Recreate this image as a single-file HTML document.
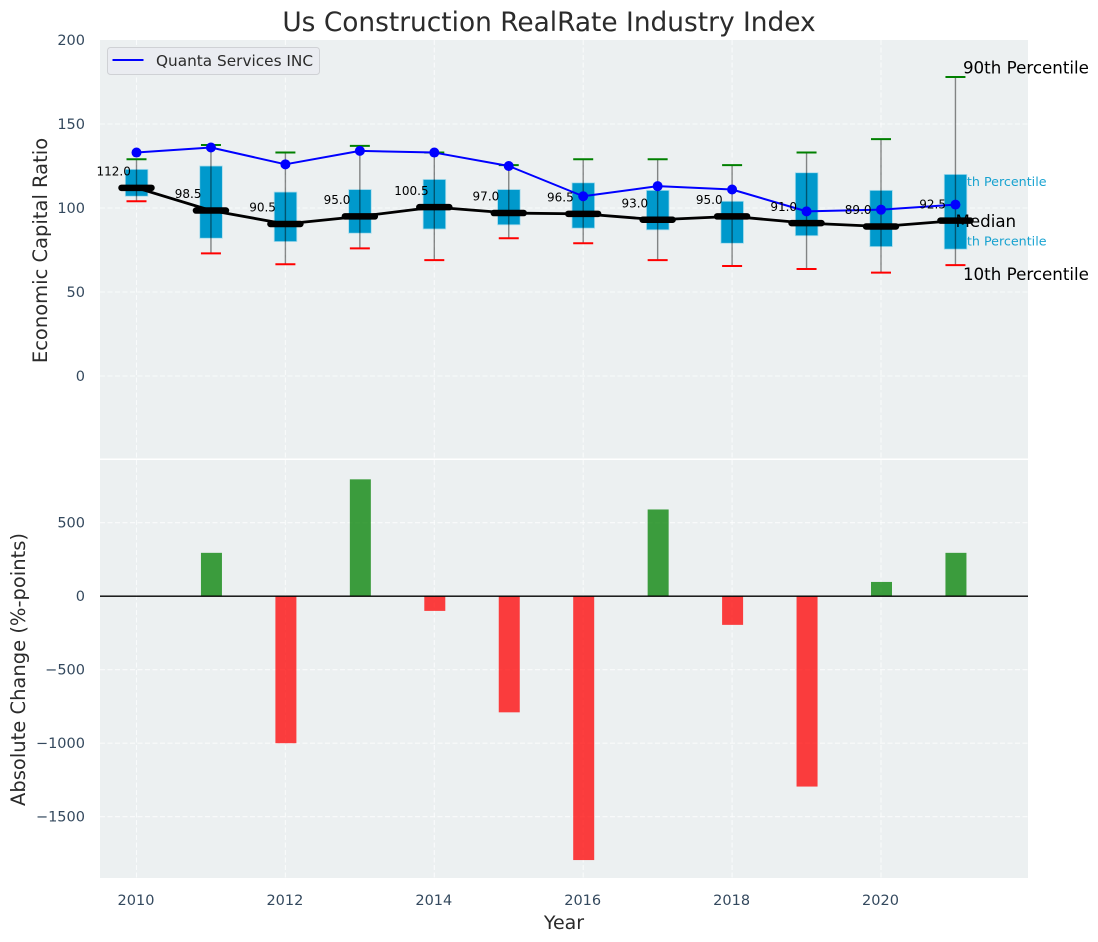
<!DOCTYPE html>
<html>
<head>
<meta charset="utf-8">
<title>Us Construction RealRate Industry Index</title>
<style>
html,body{margin:0;padding:0;background:#fff;}
svg{display:block;font-family:"DejaVu Sans","Liberation Sans",sans-serif;}
</style>
</head>
<body>
<svg id="chart" width="1098" height="942" viewBox="0 0 1098 942" xmlns="http://www.w3.org/2000/svg"></svg>
<script>
const years = [2010,2011,2012,2013,2014,2015,2016,2017,2018,2019,2020,2021];
const p90 = [129,137.5,133,137,133,125.5,129,129,125.5,133,141,178];
const p75 = [123,125,109.5,111,117,111,115,110.5,104,121,110.5,120];
const median = [112,98.5,90.5,95,100.5,97,96.5,93,95,91,89,92.5];
const p25 = [107,82,80,85,87.5,90,88,87,79,83.5,77,75.5];
const p10 = [104,73,66.5,76,69,82,79,69,65.5,63.7,61.5,66];
const company = [133,136,126,134,133,125,107,113,111,98,99,102];
const changes = [0,295,-1000,795,-100,-790,-1795,590,-195,-1295,97,295];
const xTicks = [2010,2012,2014,2016,2018,2020];
const topTicks = [0,50,100,150,200];
const bottomTicks = [-1500,-1000,-500,0,500];
const medianLabels = ["112.0","98.5","90.5","95.0","100.5","97.0","96.5","93.0","95.0","91.0","89.0","92.5"];

const X0 = 100, X1 = 1028;
const TOP_Y0 = 40, TOP_Y1 = 458.5, BOT_Y0 = 460, BOT_Y1 = 878;
const xScale = v => 136.5 + (v - 2010) * 74.45;
const yTop = v => 376 - v * 1.68;
const yBot = v => 596.2 - v * 0.147;
const svg = document.getElementById('chart');
const NS = 'http://www.w3.org/2000/svg';

function make(tag, props, text) {
  const el = document.createElementNS(NS, tag);
  for (const k in props) el.setAttribute(k, props[k]);
  if (text !== undefined) el.textContent = text;
  svg.appendChild(el);
  return el;
}
const tickColor = '#34495e', labelColor = '#2b2b2b';
const gridStyle = {stroke:'#ffffff','stroke-width':1.1,'stroke-dasharray':'5 2.5','stroke-opacity':0.7};
let el;

el = make('rect',{x:X0,y:TOP_Y0,width:X1-X0,height:TOP_Y1-TOP_Y0,fill:'#ecf0f1'});


el = make('rect',{x:X0,y:BOT_Y0,width:X1-X0,height:BOT_Y1-BOT_Y0,fill:'#ecf0f1'});



xTicks.forEach(t => {
  el = make('line',Object.assign({x1:xScale(t),x2:xScale(t),y1:TOP_Y0,y2:TOP_Y1},gridStyle));
  
  
  el = make('line',Object.assign({x1:xScale(t),x2:xScale(t),y1:BOT_Y0,y2:BOT_Y1},gridStyle));
  
  
  el = make('text',{x:xScale(t)-0.5,y:905,'text-anchor':'middle','font-size':14.5,fill:tickColor},String(t));
  
  
});
topTicks.forEach(t => {
  if (t < 200) {
    el = make('line',Object.assign({x1:X0,x2:X1,y1:yTop(t),y2:yTop(t)},gridStyle));
    
    
  }
  el = make('text',{x:85,y:yTop(t)+5,'text-anchor':'end','font-size':14.5,fill:tickColor},String(t));
  
  
});
bottomTicks.forEach(t => {
  el = make('line',Object.assign({x1:X0,x2:X1,y1:yBot(t),y2:yBot(t)},gridStyle));
  
  
  el = make('text',{x:85,y:yBot(t)+5,'text-anchor':'end','font-size':14.5,fill:tickColor},String(t).replace('-','\u2212'));
  
  
});

/* percentile notes sit beneath the boxes */
const last = years.length - 1;
el = make('text',{x:xScale(years[last])-4.7,y:yTop(p75[last])+11.5,'font-size':12.7,fill:'#0099cc','fill-opacity':0.9},'75th Percentile');


el = make('text',{x:xScale(years[last])-4.7,y:yTop(p25[last])-3.5,'font-size':12.7,fill:'#0099cc','fill-opacity':0.9},'25th Percentile');



years.forEach((yr,i) => {
  const cx = xScale(yr);
  el = make('rect',{x:cx-11.2,y:yTop(p75[i]),width:22.6,height:yTop(p25[i])-yTop(p75[i]),fill:'#0099cc',stroke:'#a9dcec','stroke-width':0.8});
  
  
  el = make('line',{x1:cx,x2:cx,y1:yTop(p90[i]),y2:yTop(p10[i]),stroke:'#000','stroke-opacity':0.45,'stroke-width':1.4});
  
  
  el = make('line',{x1:cx-10,x2:cx+10,y1:yTop(p90[i]),y2:yTop(p90[i]),stroke:'#008000','stroke-width':2});
  
  
  el = make('line',{x1:cx-10,x2:cx+10,y1:yTop(p10[i]),y2:yTop(p10[i]),stroke:'#ff0000','stroke-width':2});
  
  
});

el = make('polyline',{points:years.map((yr,i)=>xScale(yr)+','+yTop(median[i])).join(' '),fill:'none',stroke:'#000','stroke-width':2.8,'stroke-linejoin':'round'});


years.forEach((yr,i) => {
  const cx = xScale(yr);
  el = make('line',{x1:cx-15,x2:cx+15,y1:yTop(median[i]),y2:yTop(median[i]),stroke:'#000','stroke-width':6.5,'stroke-linecap':'round'});
  
  
});

el = make('polyline',{points:years.map((yr,i)=>xScale(yr)+','+yTop(company[i])).join(' '),fill:'none',stroke:'#0000ff','stroke-width':2,'stroke-linejoin':'round'});


years.forEach((yr,i) => {
  el = make('circle',{cx:xScale(yr),cy:yTop(company[i]),r:5,fill:'#0000ff'});
  
  
});
years.forEach((yr,i) => {
  el = make('text',{x:xScale(yr-0.3)-0.5,y:yTop(median[i])-12.3,'text-anchor':'middle','font-size':12,fill:'#000'},medianLabels[i]);
  
  
});

const noteX = xScale(years[last]);
el = make('text',{x:noteX+7.5,y:yTop(p90[last])-3.5,'font-size':16.7,fill:'#000'},'90th Percentile');


el = make('text',{x:noteX,y:yTop(median[last])+6.5,'font-size':16.7,fill:'#000'},'Median');


el = make('text',{x:noteX+7.5,y:yTop(p10[last])+15,'font-size':16.7,fill:'#000'},'10th Percentile');



/* change bars */
years.forEach((yr,i) => {
  if (changes[i] === 0) return;
  const y0 = yBot(Math.max(changes[i],0)), y1 = yBot(Math.min(changes[i],0));
  el = make('rect',{x:xScale(yr)-10,y:y0,width:21,height:y1-y0,fill:changes[i]>0?'#008000':'#ff0000','fill-opacity':0.75});
  
  
});
el = make('line',{x1:X0,x2:X1,y1:596.2,y2:596.2,stroke:'#000','stroke-width':1.4});



/* legend */
el = make('rect',{x:107.5,y:47.5,width:212,height:27,rx:3,fill:'#eaecf1',stroke:'#cfd1d5','stroke-width':1});


el = make('line',{x1:112.5,x2:143.5,y1:60,y2:60,stroke:'#0000ff','stroke-width':2});


el = make('text',{x:156,y:66,'font-size':15.3,fill:'#2b2b2b'},'Quanta Services INC');



/* titles */
el = make('text',{x:549,y:31,'text-anchor':'middle','font-size':26.4,fill:labelColor},'Us Construction RealRate Industry Index');


el = make('text',{x:564,y:929,'text-anchor':'middle','font-size':19,fill:labelColor},'Year');


el = make('text',{transform:'translate(47,250.5) rotate(-90)','text-anchor':'middle','font-size':19.5,fill:labelColor},'Economic Capital Ratio');


el = make('text',{transform:'translate(25,669.5) rotate(-90)','text-anchor':'middle','font-size':19.5,fill:labelColor},'Absolute Change (%-points)');


</script>
</body>
</html>
